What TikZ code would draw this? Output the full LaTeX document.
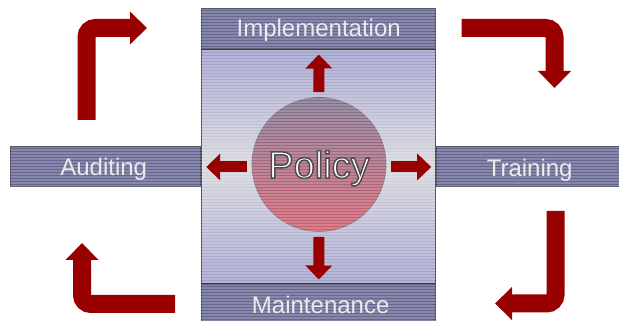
\documentclass[tikz,border=0pt]{standalone}
\usepackage{fontspec}
\setmainfont{Liberation Sans}
\usetikzlibrary{arrows.meta,%
                       positioning}
\definecolor{arrow-red}{RGB}{153,0,0}
\definecolor{bar-blue}{RGB}{102,102,146}
\definecolor{bar-edge}{RGB}{60,60,72}
\definecolor{light-lavender}{RGB}{158,158,202}
\definecolor{light-grey}{RGB}{214,214,220}
\definecolor{circle-top}{RGB}{125,112,140}
\definecolor{circle-bottom}{RGB}{208,92,108}
\definecolor{circle-edge}{RGB}{120,100,120}
\newcommand{\outlined}[1]{\special{pdf:literal direct 2 Tr 1.1 w 0.3 G}#1\special{pdf:literal direct 0 Tr 0 G}}
\tikzset{
  bar/.style={draw=bar-edge, line width=0.75pt, fill=bar-blue, inner sep=0pt, minimum height=30pt},
  bartext/.style={text=white!92!black, font=\fontsize{18}{20}\selectfont, text height=15pt, text depth=2.1pt, inner sep=0pt},
  smallarrow/.style={arrow-red, line width=8.25pt, -{Triangle[width=19.5pt,length=10.5pt]}, shorten <=3.75pt, shorten >=3.75pt},
  bigarrow/.style={arrow-red, line width=13.5pt, rounded corners=6.75pt, -{Triangle[width=24pt,length=12.75pt]}},
}
\begin{document}
\begin{tikzpicture}[x=0.75pt, y=-0.75pt]
  \useasboundingbox (0,0) rectangle (619,321);
  \clip (0,0) rectangle (619,321);

  \node[bar, minimum width=175.5pt] (impl) at (318.7,29) {};
  \node[draw=bar-edge, line width=0.75pt, minimum width=175.5pt, minimum height=175.5pt, inner sep=0pt,
        top color=light-lavender, bottom color=light-lavender, middle color=light-grey, below=0pt of impl] (body) {};
  \node[bar, minimum width=175.5pt, below=0pt of body] (maint) {};
  \node[bar, minimum width=142.5pt, left=0pt of body] (audit) {};
  \node[bar, minimum width=139.5pt, right=0pt of body] (train) {};

  \node[circle, draw=circle-edge, line width=0.5pt, minimum size=100.5pt, inner sep=0pt,
        top color=circle-top, bottom color=circle-bottom] (policy) at (319,164.5) {};

  % stripes
  \begin{scope}
    \clip (impl.north west) rectangle (maint.south east)
          (audit.north west) rectangle (audit.south east)
          (train.north west) rectangle (train.south east);
    \foreach \y in {0,3,...,330}
      \draw[white, opacity=0.22, line width=0.9pt] (0,\y) -- (619,\y);
  \end{scope}

  \node[bartext, yshift=1pt] at (impl) {Implementation};
  \node[bartext, xshift=-1.5pt] at (audit) {Auditing};
  \node[bartext, yshift=-1pt] at (train) {Training};
  \node[bartext, xshift=1.5pt] at (maint) {Maintenance};
  \node[font=\fontsize{28.5}{30}\selectfont, text=white, text height=23.5pt, text depth=3.1pt, inner sep=0pt] at (policy) {\outlined{Policy}};

  % arrows out of the circle
  \draw[smallarrow] (policy.north) -- (impl.south);
  \draw[smallarrow] (policy.south) -- (maint.north);
  \draw[smallarrow] (policy.west |- audit) -- (audit.east);
  \draw[smallarrow] (policy.east |- train) -- (train.west);

  % the cycle
  \coordinate (audit-out) at (86.5,120);
  \coordinate (impl-in) at (147,28);
  \coordinate (impl-out) at (461.7,28);
  \coordinate (train-in) at (554.5,88);
  \coordinate (train-out) at (555.5,211);
  \coordinate (maint-in) at (495,303.5);
  \coordinate (maint-out) at (175,304);
  \coordinate (audit-in) at (82,243);

  \draw[bigarrow] (audit-out) |- (impl-in);
  \draw[bigarrow] (impl-out) -| (train-in);
  \draw[bigarrow] (train-out) |- (maint-in);
  \draw[bigarrow] (maint-out) -| (audit-in);
\end{tikzpicture}
\end{document}
